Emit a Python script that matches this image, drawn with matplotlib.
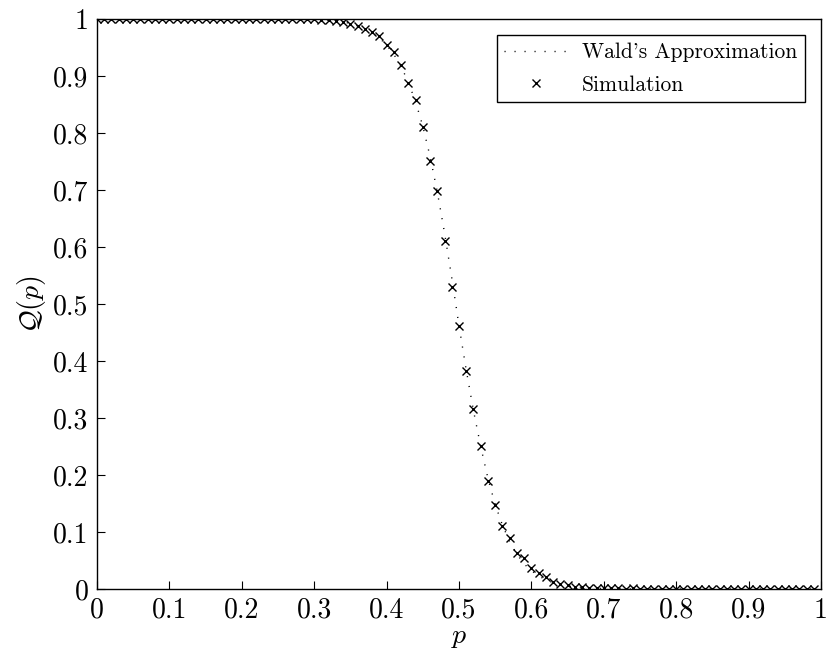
import matplotlib
matplotlib.use('Agg')
import matplotlib.pyplot as plt
import numpy as np
from matplotlib.ticker import FormatStrFormatter, MultipleLocator

plt.rcParams['font.family'] = 'serif'
plt.rcParams['font.serif'] = ['cmr10']
plt.rcParams['mathtext.fontset'] = 'cm'
plt.rcParams['axes.unicode_minus'] = False

# probability of success, step 0.01
p = np.arange(100) / 100.0

# simulated acceptance probability
sim_q = [
    1.0, 1.0, 1.0, 1.0, 1.0, 1.0, 1.0, 1.0, 1.0, 1.0,
    1.0, 1.0, 1.0, 1.0, 1.0, 1.0, 1.0, 1.0, 1.0, 1.0,
    1.0, 1.0, 1.0, 1.0, 1.0, 1.0, 1.0, 1.0, 1.0, 1.0,
    1.0, 0.999, 0.999, 0.996, 0.994, 0.991, 0.988, 0.982, 0.978, 0.970,
    0.954, 0.942, 0.919, 0.887, 0.858, 0.810, 0.751, 0.699, 0.611, 0.530,
    0.461, 0.382, 0.316, 0.251, 0.189, 0.148, 0.110, 0.089, 0.064, 0.054,
    0.036, 0.0275, 0.0205, 0.013, 0.009, 0.007, 0.004, 0.003, 0.002, 0.002,
    0.001, 0.001, 0.001, 0.0, 0.001, 0.0, 0.0, 0.0, 0.0, 0.0,
    0.0, 0.0, 0.0, 0.0, 0.0, 0.0, 0.0, 0.0, 0.0, 0.0,
    0.0, 0.0, 0.0, 0.0, 0.0, 0.0, 0.0, 0.0, 0.0, 0.0,
]

# Wald's approximation of the operating characteristic
wald_q = [
    1.0, 1.0, 1.0, 1.0, 1.0, 1.0, 1.0, 1.0, 1.0, 1.0,
    1.0, 1.0, 1.0, 1.0, 1.0, 1.0, 1.0, 1.0, 1.0, 1.0,
    1.0, 1.0, 1.0, 1.0, 1.0, 1.0, 1.0, 1.0, 1.0, 1.0,
    1.0, 0.999, 0.998, 0.997, 0.995, 0.992, 0.988, 0.983, 0.976, 0.967,
    0.954, 0.938, 0.917, 0.889, 0.855, 0.812, 0.759, 0.697, 0.625, 0.546,
    0.462, 0.384, 0.313, 0.250, 0.194, 0.148, 0.112, 0.083, 0.061, 0.044,
    0.032, 0.023, 0.016, 0.011, 0.008, 0.005, 0.004, 0.003, 0.002, 0.001,
    0.001, 0.0, 0.0, 0.0, 0.0, 0.0, 0.0, 0.0, 0.0, 0.0,
    0.0, 0.0, 0.0, 0.0, 0.0, 0.0, 0.0, 0.0, 0.0, 0.0,
    0.0, 0.0, 0.0, 0.0, 0.0, 0.0, 0.0, 0.0, 0.0, 0.0,
]

fig = plt.figure(figsize=(8.26, 6.55), dpi=100)
ax = fig.add_axes([97 / 826, 66 / 655, 724 / 826, 570 / 655])

ax.plot(p, wald_q, color='black', linewidth=1.0, linestyle=(0, (0.8, 6.4)),
        label="Wald's Approximation")
ax.plot(p, sim_q, color='black', linestyle='none', marker='x',
        markersize=5.5, markeredgewidth=1.0, label='Simulation')

ax.set_xlim(0, 1)
ax.set_ylim(0, 1)
ax.xaxis.set_major_locator(MultipleLocator(0.1))
ax.yaxis.set_major_locator(MultipleLocator(0.1))
ax.xaxis.set_major_formatter(FormatStrFormatter('%g'))
ax.yaxis.set_major_formatter(FormatStrFormatter('%g'))
ax.tick_params(direction='in', length=5.5, width=0.8, labelsize=20,
               top=False, right=False, pad=6)
for s in ax.spines.values():
    s.set_linewidth(1.0)

ax.set_xlabel(r'$p$', fontsize=20, labelpad=0)
ax.set_ylabel(r'$\mathcal{Q}(p)$', fontsize=20, labelpad=4)

leg = ax.legend(loc='upper right', fontsize=15.5, numpoints=1,
                handlelength=2.9, handletextpad=0.7, labelspacing=0.6,
                borderaxespad=0.75, borderpad=0.35, fancybox=False,
                framealpha=1)
leg.get_frame().set_edgecolor('black')
leg.get_frame().set_linewidth(1.0)

fig.savefig('out.png', dpi=100)
